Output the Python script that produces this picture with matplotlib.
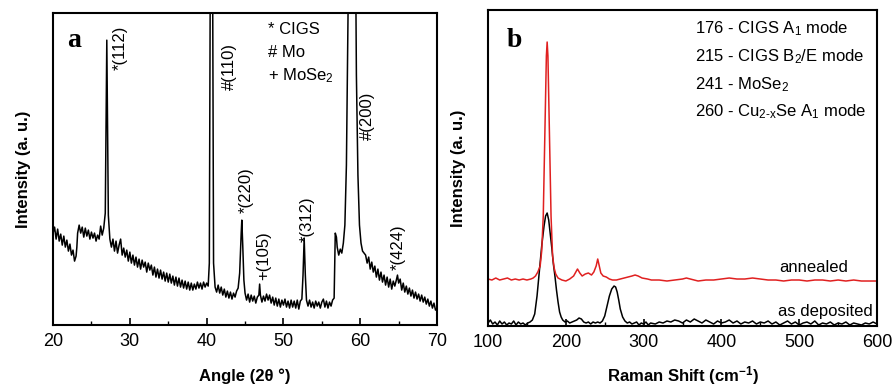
import numpy as np
import matplotlib.pyplot as plt

plt.rcParams['font.family'] = ['Liberation Sans', 'DejaVu Sans']
plt.rcParams['mathtext.fontset'] = 'custom'
plt.rcParams['mathtext.rm'] = 'Liberation Sans'
plt.rcParams['mathtext.it'] = 'Liberation Sans:italic'
plt.rcParams['mathtext.bf'] = 'Liberation Sans:bold'

# ---- (a) XRD pattern, intensity in arbitrary units ----
xrd_angle = [
    20.0, 20.2, 20.4, 20.6, 20.8, 21.0, 21.2, 21.4, 21.6, 21.8, 22.0, 22.2, 22.4, 22.6, 22.8, 23.0, 23.1, 23.2,
    23.4, 23.6, 23.8, 24.0, 24.2, 24.4, 24.6, 24.8, 25.0, 25.2, 25.4, 25.6, 25.8, 26.0, 26.2, 26.4, 26.6, 26.8,
    26.9, 27.0, 27.1, 27.2, 27.4, 27.6, 27.8, 28.0, 28.2, 28.4, 28.6, 28.8, 29.0, 29.2, 29.4, 29.6, 29.8, 30.0,
    30.2, 30.4, 30.6, 30.8, 31.0, 31.2, 31.4, 31.6, 31.8, 32.0, 32.2, 32.4, 32.6, 32.8, 33.0, 33.2, 33.4, 33.6,
    33.8, 34.0, 34.2, 34.4, 34.6, 34.8, 35.0, 35.2, 35.4, 35.6, 35.8, 36.0, 36.2, 36.4, 36.6, 36.8, 37.0, 37.2,
    37.4, 37.6, 37.8, 38.0, 38.2, 38.4, 38.6, 38.8, 39.0, 39.2, 39.4, 39.6, 39.8, 40.0, 40.2, 40.35, 40.5, 40.75,
    40.9, 41.1, 41.3, 41.5, 41.7, 41.9, 42.1, 42.3, 42.5, 42.7, 42.9, 43.1, 43.3, 43.5, 43.7, 43.9, 44.1, 44.3,
    44.5, 44.58, 44.7, 44.85, 45.0, 45.2, 45.4, 45.6, 45.8, 46.0, 46.2, 46.4, 46.6, 46.8, 46.9, 47.0, 47.2, 47.4,
    47.6, 47.8, 48.0, 48.2, 48.4, 48.6, 48.8, 49.0, 49.2, 49.4, 49.6, 49.8, 50.0, 50.2, 50.4, 50.6, 50.8, 51.0,
    51.2, 51.4, 51.6, 51.8, 52.0, 52.2, 52.4, 52.55, 52.7, 52.85, 53.0, 53.2, 53.4, 53.6, 53.8, 54.0, 54.2, 54.4,
    54.6, 54.8, 55.0, 55.2, 55.4, 55.6, 55.8, 56.0, 56.2, 56.4, 56.6, 56.75, 56.9, 57.0, 57.2, 57.4, 57.6, 57.8,
    58.0, 58.2, 58.4, 58.55, 59.35, 59.5, 59.7, 59.9, 60.1, 60.3, 60.5, 60.7, 60.9, 61.1, 61.3, 61.5, 61.7, 61.9,
    62.1, 62.3, 62.5, 62.7, 62.9, 63.1, 63.3, 63.5, 63.7, 63.9, 64.1, 64.3, 64.5, 64.7, 64.85, 65.0, 65.2, 65.4,
    65.6, 65.8, 66.0, 66.2, 66.4, 66.6, 66.8, 67.0, 67.2, 67.4, 67.6, 67.8, 68.0, 68.2, 68.4, 68.6, 68.8, 69.0,
    69.2, 69.4, 69.6, 69.8, 70.0]
xrd_int = [
    92, 98, 86, 96, 84, 91, 80, 89, 78, 85, 74, 81, 70, 75, 64, 69, 78, 92,
    100, 92, 98, 88, 97, 89, 95, 86, 93, 87, 92, 84, 90, 86, 99, 90, 97, 112,
    200, 285, 200, 110,
    86, 78, 86, 74, 84, 72, 80, 86, 70, 77, 68, 75, 64, 73, 62, 70, 60, 68, 58, 66,
    56, 65, 58, 63, 53, 62, 55, 60, 50, 58, 48, 56, 47, 55, 46, 53, 44, 52, 43, 51,
    42, 49, 40, 48, 39, 47, 38, 45, 37, 44, 36, 43, 35, 42, 35, 41, 36, 43, 37, 42,
    36, 43, 38, 42, 39,
    62, 420, 420, 62,
    38, 33, 40, 32, 38, 30, 36, 28, 34, 27, 33, 26, 32, 28, 34, 37,
    52, 92, 105, 80, 45,
    32, 25, 31, 23, 30, 24, 29, 22, 28, 30,
    41, 30,
    23, 29, 24, 31, 25, 30, 22, 28, 20, 27, 19, 26, 18, 25, 20, 26, 18, 24, 17, 25, 18, 24, 17, 25, 16, 24, 26,
    50, 87, 50,
    25, 19, 25, 18, 23, 17, 24, 19, 23, 17, 23, 26, 18, 24, 17, 23, 19, 25, 27,
    92, 88, 78, 70, 76, 72, 82,
    100, 160, 300, 420, 420, 250, 150, 100,
    82, 74, 72, 70, 62, 68, 56, 63, 53, 59, 48, 56, 45, 53, 43, 50, 40, 48, 38, 46, 36, 44, 39, 45,
    50,
    42, 46, 35, 42, 33, 39, 31, 37, 29, 35, 27, 33, 26, 31, 24, 30, 23, 28, 21, 26, 19, 24, 17, 22, 15, 17]

xrd_tags = ['*(112)', '#(110)', '*(220)', '+(105)', '*(312)', '#(200)', '*(424)']
xrd_tag_x = [28.7, 43.0, 45.2, 47.4, 53.1, 61.0, 65.0]
xrd_tag_y = [255, 235, 112, 45, 83, 185, 55]
xrd_key = ['* CIGS', '# Mo', '+ MoSe$_2$']

# ---- (b) Raman spectra ----
ann_shift = [
    100, 105, 110, 115, 120, 125, 130, 135, 140, 145, 150, 155, 158, 161, 164, 167, 169, 171, 173, 175, 176,
    177, 179, 181, 183, 185, 187, 190, 195, 200, 205, 210, 215, 218, 221, 225, 229, 233, 236, 239, 241, 243,
    245, 248, 252, 256, 260, 265, 270, 275, 280, 285, 289, 293, 298, 305, 310, 320, 330, 340, 350, 355, 360,
    370, 380, 390, 400, 410, 420, 430, 440, 450, 460, 470, 480, 490, 500, 510, 520, 530, 540, 550, 560, 570,
    580, 590, 600]
ann_int = [
    47, 46, 48, 46, 47, 48, 46, 47, 46, 47, 46, 47, 48, 50, 54, 60, 75, 110, 190, 270, 284,
    270, 190, 110, 70, 58, 52, 48, 46, 45, 47, 50, 57, 53, 50, 52, 53, 51, 54, 60, 67, 60,
    53, 50, 49, 47, 46, 46, 47, 48, 49, 50, 51, 50, 48, 47, 46, 46, 45, 46, 47, 48, 47,
    45, 46, 46, 47, 48, 47, 47, 48, 47, 46, 46, 45, 46, 46, 45, 46, 46, 45, 46, 45, 46,
    45, 45, 45]

dep_shift = [
    100, 103, 106, 109, 112, 115, 118, 121, 124, 127, 130, 133, 136, 139, 142, 145, 148, 151, 154, 157, 160,
    163, 166, 169, 172, 174, 176, 178, 180, 182, 184, 186, 188, 190, 192, 194, 196, 199, 202, 205, 208, 211,
    214, 217, 220, 223, 226, 229, 232, 235, 238, 241, 244, 247, 250, 253, 256, 259, 262, 264, 266, 268, 270,
    273, 276, 279, 282, 285, 288, 291, 294, 297, 300, 303, 306, 309, 315, 320, 325, 330, 335, 340, 345, 350,
    355, 360, 365, 370, 375, 380, 385, 390, 395, 400, 405, 410, 415, 420, 425, 430, 435, 440, 445, 450, 455,
    460, 465, 470, 475, 480, 485, 490, 495, 500, 505, 510, 515, 520, 525, 530, 535, 540, 545, 550, 555, 560,
    565, 570, 575, 580, 585, 590, 595, 600]
dep_int = [
    3, 6, 2, 4, 1, 5, 2, 4, 1, 3, 2, 5, 1, 4, 2, 3, 1, 3, 4, 6, 12,
    30, 55, 80, 100, 110, 113, 106, 92, 78, 62, 50, 36, 24, 14, 9, 6, 4, 5, 3, 4, 5,
    6, 8, 7, 4, 3, 4, 2, 4, 3, 4, 3, 5, 10, 20, 30, 37, 40, 39, 34, 26, 17,
    9, 5, 3, 4, 2, 3, 4, 1, 3, 2, 4, 1, 3, 2, 4, 3, 5, 4, 6, 5, 3,
    6, 4, 7, 5, 3, 6, 4, 2, 5, 3, 4, 6, 3, 5, 2, 4, 3, 5, 2, 4, 3,
    5, 2, 4, 1, 3, 5, 2, 4, 1, 3, 4, 2, 5, 1, 3, 2, 4, 1, 3, 2, 4,
    1, 3, 2, 1, 3, 2, 4, 2]

raman_key = ['176 - CIGS A$_1$ mode', '215 - CIGS B$_2$/E mode', '241 - MoSe$_2$',
             '260 - Cu$_{\\text{2-x}}$Se A$_1$ mode']

fig = plt.figure(figsize=(8.93, 3.87), dpi=100)
ax1 = fig.add_axes([0.0594, 0.160, 0.430, 0.806])
ax2 = fig.add_axes([0.5465, 0.1576, 0.4356, 0.8165])

for ax in (ax1, ax2):
    for s in ax.spines.values():
        s.set_linewidth(1.5)
    ax.set_yticks([])
    ax.tick_params(axis='x', which='major', direction='in', length=5, width=1.2, labelsize=13, pad=6)
    ax.tick_params(axis='x', which='minor', direction='in', length=3, width=1.0)

ax1.plot(xrd_angle, xrd_int, color='black', lw=1.1)
ax1.set_xlim(20, 70)
ax1.set_ylim(0, 312)
ax1.set_xticks(range(20, 71, 10))
ax1.set_xticks(range(25, 70, 10), minor=True)
for t, x, y in zip(xrd_tags, xrd_tag_x, xrd_tag_y):
    ax1.text(x, y, t, rotation=90, ha='center', va='bottom', fontsize=12)
for i, t in enumerate(xrd_key):
    ax1.text(48.0, 296 - i * 23.5, t, ha='left', va='center', fontsize=12)
ax1.text(21.8, 285, 'a', fontsize=20, fontweight='bold', family='Liberation Serif', va='center')
ax1.set_xlabel('Angle (2θ °)', fontsize=12, fontweight='bold', labelpad=13)
ax1.set_ylabel('Intensity (a. u.)', fontsize=12, fontweight='bold', labelpad=16)

ax2.plot(dep_shift, dep_int, color='black', lw=1.1)
ax2.plot(ann_shift, ann_int, color='#e02020', lw=1.1)
ax2.set_xlim(100, 600)
ax2.set_ylim(0, 316)
ax2.set_xticks(range(100, 601, 100))
ax2.set_xticks(range(150, 600, 100), minor=True)
ax2.text(519, 59, 'annealed', ha='center', va='center', fontsize=12)
ax2.text(594, 15, 'as deposited', ha='right', va='center', fontsize=12)
for i, t in enumerate(raman_key):
    ax2.text(366, 297 - i * 27.7, t, ha='left', va='center', fontsize=12)
ax2.text(124, 286, 'b', fontsize=20, fontweight='bold', family='Liberation Serif', va='center')
ax2.set_xlabel('Raman Shift (cm$^{\\mathbf{-1}}$)', fontsize=12, fontweight='bold', labelpad=9)
ax2.set_ylabel('Intensity (a. u.)', fontsize=12, fontweight='bold', labelpad=16)

fig.savefig('out.png', dpi=100)
